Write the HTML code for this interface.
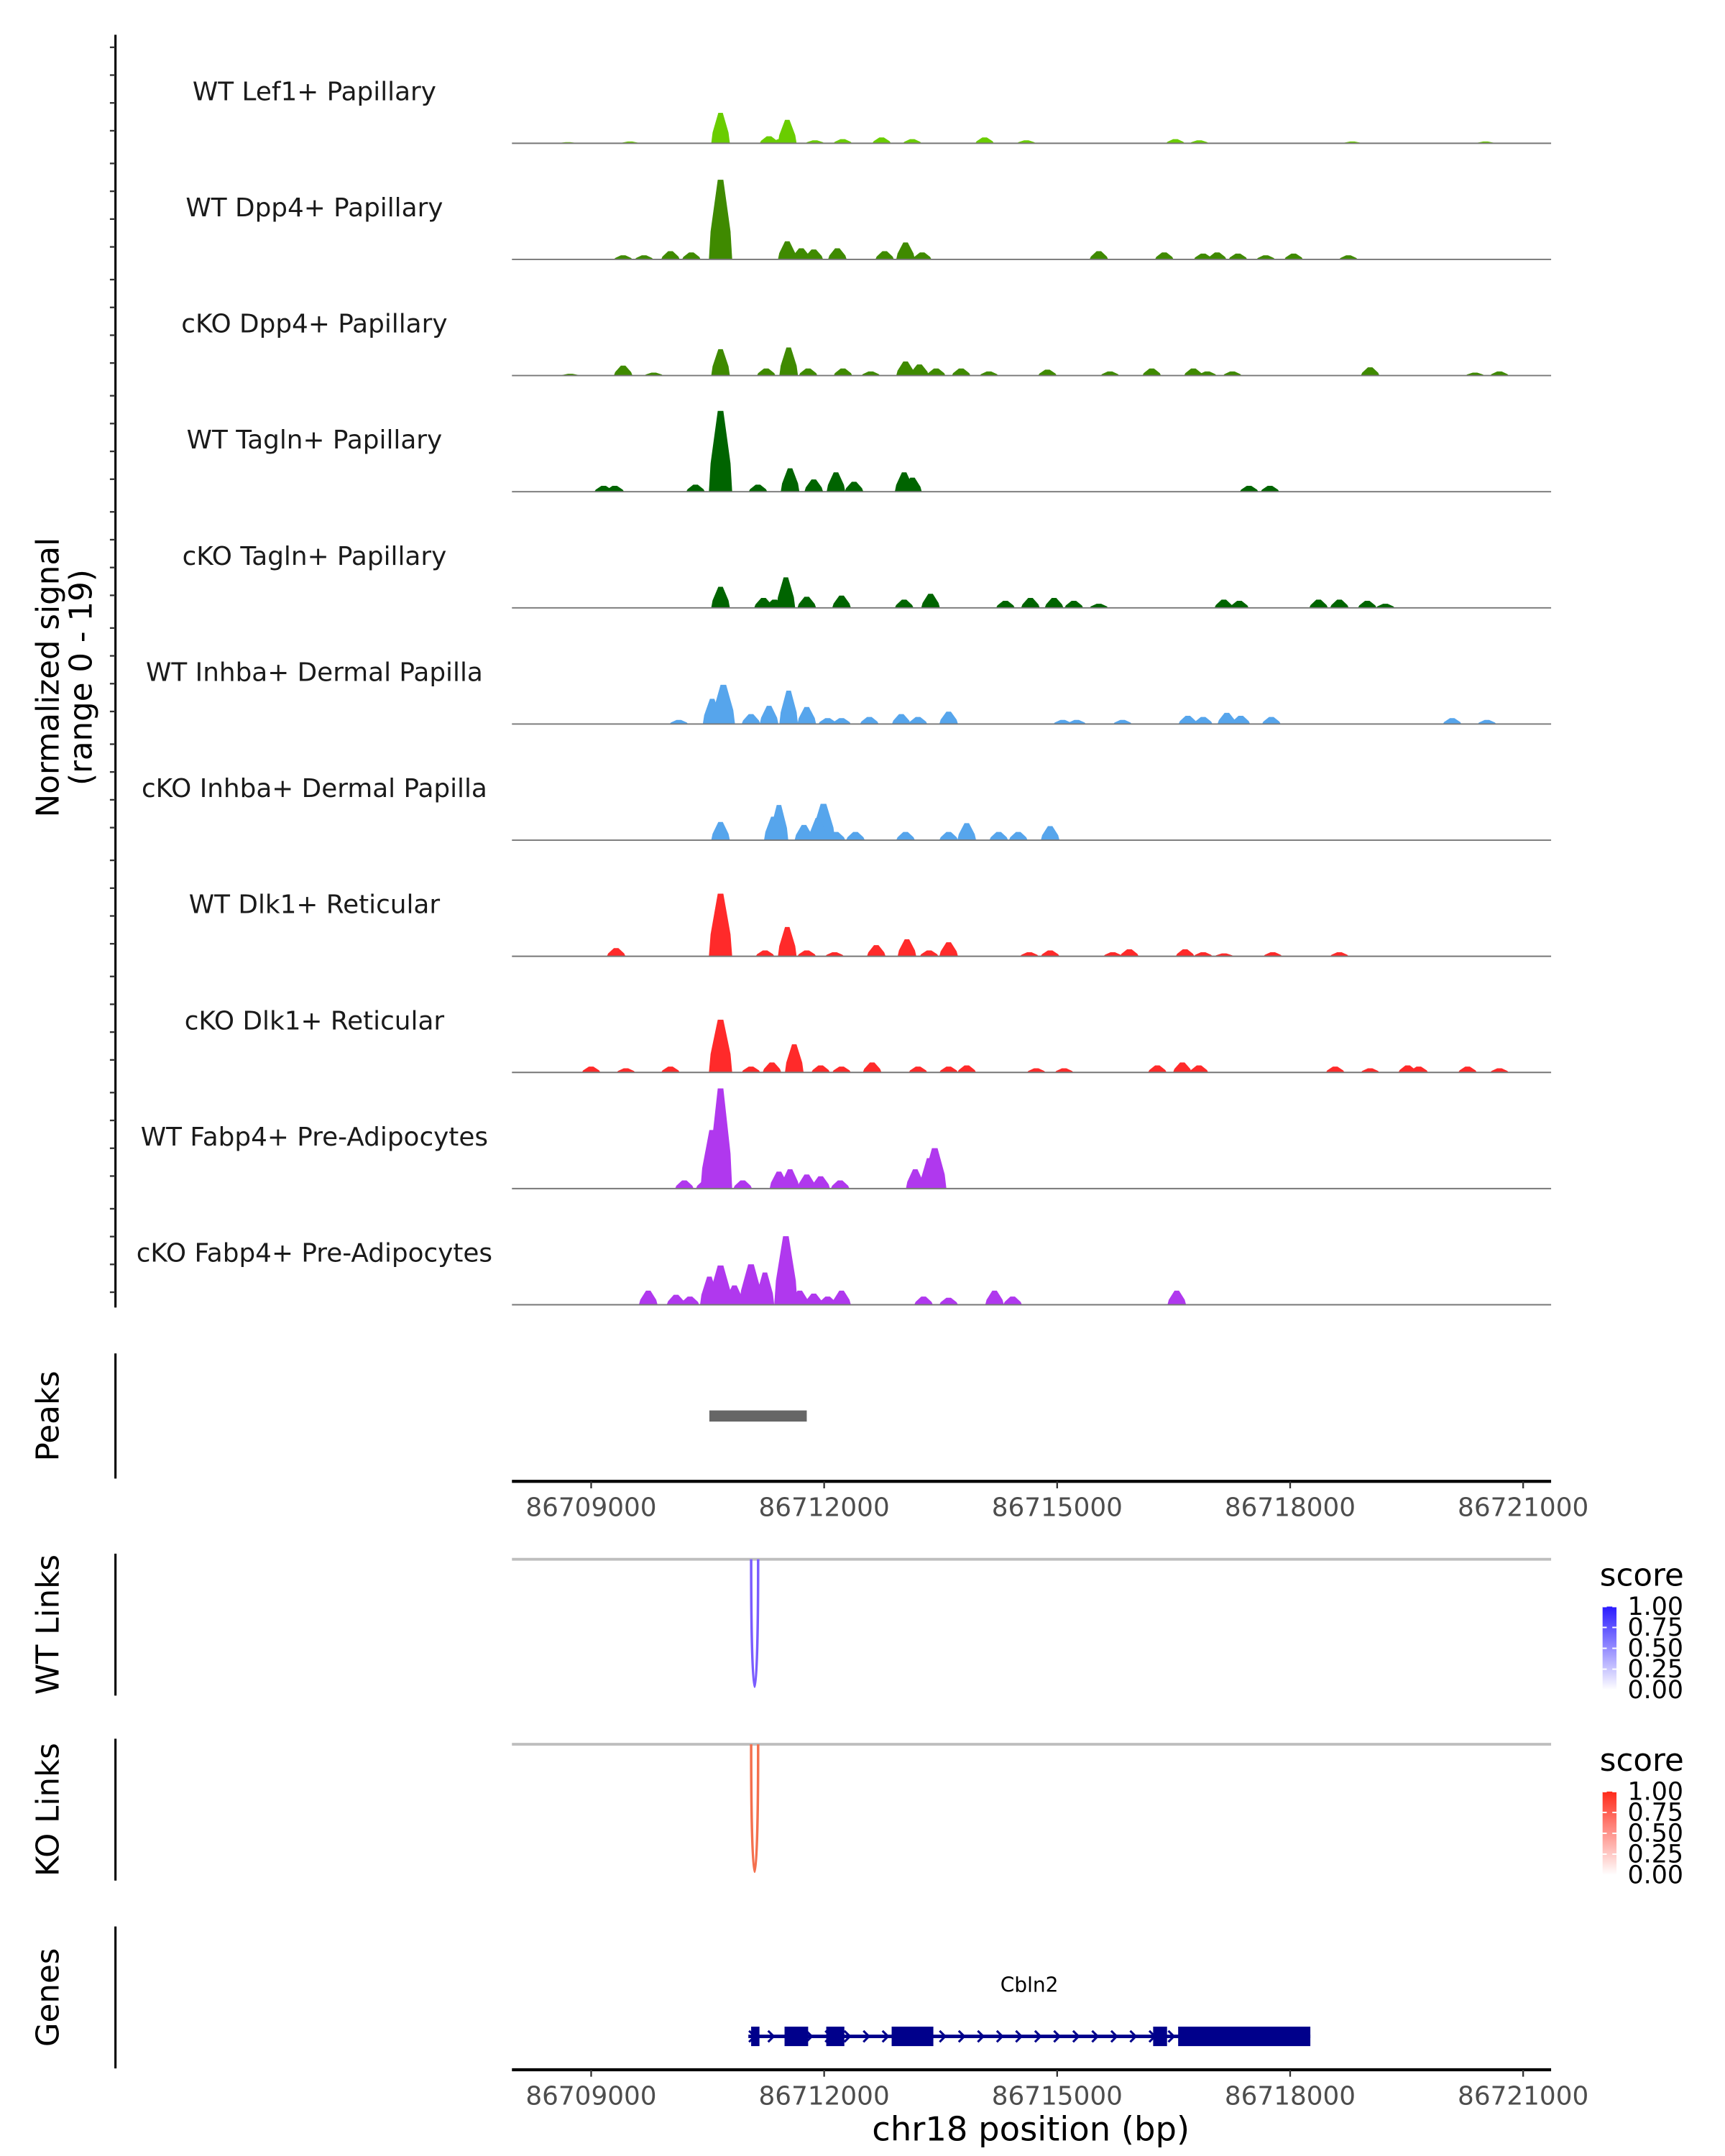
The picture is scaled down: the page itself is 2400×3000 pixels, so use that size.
<!DOCTYPE html>
<html><head><meta charset="utf-8"><style>
html,body{margin:0;padding:0;background:#fff;}
svg{display:block;font-family:"DejaVu Sans","Liberation Sans",sans-serif;}
</style></head><body>
<svg id="chart" width="2400" height="3000" viewBox="0 0 1240 1550" xmlns="http://www.w3.org/2000/svg"></svg>
<script>
// ---- data ----
const trackLabels = ["WT Lef1+ Papillary","WT Dpp4+ Papillary","cKO Dpp4+ Papillary","WT Tagln+ Papillary","cKO Tagln+ Papillary","WT Inhba+ Dermal Papilla","cKO Inhba+ Dermal Papilla","WT Dlk1+ Reticular","cKO Dlk1+ Reticular","WT Fabp4+ Pre-Adipocytes","cKO Fabp4+ Pre-Adipocytes"];
const trackColors = ["#6acd00","#3f8a00","#3f8a00","#006400","#006400","#56a5ec","#56a5ec","#ff2a2a","#ff2a2a","#b038ee","#b038ee"];
// peaks: [position bp, signal (0-19)]
const lef1WT = [[86710666,5.2],[86711525,4.0],[86711290,1.2],[86711433,0.7],[86711881,0.5],[86712239,0.7],[86712740,1.0],[86713134,0.7],[86714066,1.0],[86714603,0.5],[86716522,0.7],[86716830,0.5],[86720516,0.3],[86709500,0.3],[86708700,0.2],[86718800,0.3]];
const dpp4WT = [[86710666,13.6],[86711525,3.1],[86711705,1.9],[86711866,1.7],[86712170,1.9],[86712779,1.4],[86713048,2.9],[86713262,1.2],[86710021,1.4],[86710290,1.2],[86709412,0.7],[86709681,0.7],[86715537,1.4],[86716379,1.2],[86716880,1.0],[86717060,1.2],[86717328,1.0],[86717686,0.7],[86718045,1.0],[86718750,0.7]];
const dpp4KO = [[86710666,4.5],[86711543,4.8],[86709412,1.7],[86711254,1.2],[86711794,1.2],[86712242,1.2],[86712600,0.7],[86713048,2.4],[86713227,1.9],[86713442,1.2],[86713764,1.2],[86714122,0.7],[86714875,1.0],[86715680,0.7],[86716218,1.2],[86716754,1.2],[86716933,0.7],[86717256,0.7],[86719030,1.4],[86720695,0.7],[86720380,0.5],[86708731,0.3],[86709806,0.5]];
const taglnWT = [[86710666,13.8],[86711561,4.0],[86711866,2.1],[86712152,3.3],[86712385,1.7],[86713030,3.3],[86713137,2.4],[86711148,1.2],[86710344,1.2],[86709161,1.0],[86709304,1.0],[86717471,1.0],[86717740,1.0]];
const taglnKO = [[86710666,3.6],[86711507,5.2],[86711219,1.7],[86711362,1.4],[86711776,1.9],[86712224,2.1],[86713030,1.4],[86713370,2.4],[86714334,1.2],[86714656,1.7],[86714960,1.7],[86715215,1.2],[86715537,0.7],[86717146,1.4],[86717346,1.2],[86718366,1.4],[86718634,1.4],[86718993,1.2],[86719226,0.7]];
const inhbaWT = [[86710702,6.7],[86711543,5.7],[86710558,4.3],[86711058,1.7],[86711291,3.1],[86711776,2.9],[86712045,1.0],[86712224,1.0],[86712582,1.2],[86712993,1.7],[86713208,1.2],[86713603,2.1],[86715072,0.7],[86715251,0.7],[86715842,0.7],[86716683,1.4],[86716880,1.2],[86717185,1.9],[86717364,1.4],[86717758,1.2],[86720086,1.0],[86720534,0.7],[86710129,0.7]];
const inhbaKO = [[86710666,3.1],[86711418,6.0],[86711346,4.0],[86711991,6.2],[86711919,3.8],[86711740,2.6],[86712152,1.4],[86712403,1.4],[86713048,1.4],[86713603,1.4],[86713836,2.9],[86714248,1.4],[86714499,1.4],[86714910,2.4]];
const dlk1WT = [[86710666,10.7],[86711525,5.0],[86709322,1.4],[86711239,1.0],[86711776,1.0],[86712134,0.7],[86712671,1.9],[86713066,2.9],[86713603,2.4],[86713352,1.0],[86714642,0.7],[86714910,1.0],[86715716,0.7],[86715930,1.2],[86716647,1.2],[86716880,0.7],[86717150,0.5],[86717776,0.7],[86718634,0.7]];
const dlk1KO = [[86710666,9.0],[86711615,4.8],[86709000,1.0],[86709448,0.7],[86710021,1.0],[86711058,1.0],[86711328,1.7],[86711955,1.2],[86712224,1.0],[86712618,1.7],[86713209,1.0],[86713603,1.0],[86713836,1.2],[86714731,0.7],[86715090,0.7],[86716290,1.2],[86716612,1.7],[86716826,1.2],[86718580,1.0],[86719030,0.7],[86719513,1.2],[86719656,1.0],[86720284,1.0],[86720695,0.7]];
const fabp4WT = [[86710666,17.1],[86710558,10.0],[86710200,1.4],[86710469,1.4],[86710951,1.4],[86711418,2.9],[86711561,3.3],[86711776,2.4],[86711955,2.1],[86712206,1.4],[86713173,3.3],[86713424,6.9],[86713352,5.2]];
const fabp4KO = [[86711507,11.7],[86710666,6.7],[86711058,6.9],[86710522,4.8],[86710845,3.3],[86711237,5.5],[86711686,2.4],[86711866,1.9],[86712045,1.4],[86712224,2.4],[86709735,2.4],[86710093,1.7],[86710272,1.4],[86713280,1.4],[86713603,1.2],[86714194,2.4],[86714427,1.4],[86716540,2.4]];
const trackPeaks = [lef1WT,dpp4WT,dpp4KO,taglnWT,taglnKO,inhbaWT,inhbaKO,dlk1WT,dlk1KO,fabp4WT,fabp4KO];
const xTicks = [86709000,86712000,86715000,86718000,86721000];
const peakRegions = [[86710522,86711776]];
const wtLinks = [[86711060,86711150,1.0]];
const koLinks = [[86711060,86711150,1.0]];
const legendTicks = ["1.00","0.75","0.50","0.25","0.00"];
const exons = [[86711060,86711167],[86711490,86711794],[86712027,86712260],[86712869,86713406],[86716236,86716415],[86716558,86718260]];
const geneSpan = [86711024,86718260];
const geneName = "Cbln2";

// ---- scales ----
const X0=86707980, X1=86721360, PX0=368, PX1=1115;
const sx = v => PX0 + (v - X0) / (X1 - X0) * (PX1 - PX0);
const YMAX = 19, TRACK_H = 80;
const sy = (base, v) => base - v / YMAX * TRACK_H;
const NS="http://www.w3.org/2000/svg";
const svg=document.getElementById('chart');
function mk(tag, attrs, parent){const e=document.createElementNS(NS,tag);for(const k in attrs)e.setAttribute(k,attrs[k]);(parent||svg).appendChild(e);return e;}
function txt(s, attrs, parent){const e=mk('text',attrs,parent);e.textContent=s;return e;}

// y-axis
const yAxis=mk('g',{});


mk('line',{x1:83,y1:25,x2:83,y2:940,stroke:'#000','stroke-width':1.6},yAxis);
const baselines=[];
for(let i=0;i<11;i++) baselines.push(103+i*83.5);
baselines.forEach(b=>{[-9,-29,-49,-69].forEach(o=>mk('line',{x1:79,y1:b+o,x2:83,y2:b+o,stroke:'#333','stroke-width':1.2},yAxis));});
const yt=mk('text',{transform:'translate(42,487) rotate(-90)','text-anchor':'middle','font-size':22.5,fill:'#000'});


mk('tspan',{x:0,dy:0},yt).textContent='Normalized signal';
mk('tspan',{x:0,dy:24},yt).textContent='(range 0 - 19)';

// tracks
trackPeaks.forEach((peaks,i)=>{
  const base=baselines[i];
  const g=mk('g',{});
  
  
  const l=txt(trackLabels[i],{x:226,y:base-31,'text-anchor':'middle','font-size':18.5,fill:'#1a1a1a'},g);
  
  
  peaks.forEach(p=>{
    const hw = p[1]>6 ? 150 : 120;
    const a=sx(p[0]-hw), c=sx(p[0]), b=sx(p[0]+hw), t=sy(base,p[1]);
    const tw=(b-a)*0.12;
    const pe=mk('path',{d:`M${a},${base} L${a+tw*0.6},${sy(base,p[1]*0.35)} L${c-tw},${t} L${c+tw},${t} L${b-tw*0.6},${sy(base,p[1]*0.35)} L${b},${base} Z`,fill:trackColors[i]},g);
    
    
  });
  mk('line',{x1:PX0,y1:base,x2:PX1,y2:base,stroke:'#777','stroke-width':1},g);
});

// peaks track
mk('line',{x1:83,y1:973,x2:83,y2:1063,stroke:'#000','stroke-width':1.6});
const pl=txt('Peaks',{transform:'translate(42,1018) rotate(-90)','text-anchor':'middle','font-size':22.5});


peakRegions.forEach(r=>{const e=mk('rect',{x:sx(r[0]),y:1014,width:sx(r[1])-sx(r[0]),height:8,fill:'#666'});

});

function xAxis(y,name){
  const g=mk('g',{});
  
  
  mk('line',{x1:PX0,y1:y,x2:PX1,y2:y,stroke:'#000','stroke-width':2.2},g);
  xTicks.forEach(t=>{mk('line',{x1:sx(t),y1:y,x2:sx(t),y2:y+5,stroke:'#333','stroke-width':1.2},g);
    txt(String(t),{x:sx(t),y:y+25,'text-anchor':'middle','font-size':18.5,fill:'#4d4d4d'},g);});
}
xAxis(1065,'x-axis-top');

function linkPanel(top,links,color,label,grad,c0){
  mk('line',{x1:83,y1:top-4,x2:83,y2:top+98,stroke:'#000','stroke-width':1.6});
  const l=txt(label,{transform:`translate(42,${top+47}) rotate(-90)`,'text-anchor':'middle','font-size':22.5});
  
  
  mk('line',{x1:PX0,y1:top,x2:PX1,y2:top,stroke:'#bebebe','stroke-width':2});
  links.forEach(k=>{const a=sx(k[0]),b=sx(k[1]),d=k[2]*94;
    const p=mk('path',{d:`M${a},${top} C${a},${top+d*1.3} ${b},${top+d*1.3} ${b},${top}`,fill:'none',stroke:color,'stroke-width':1.8});
    
    });
  const lg=mk('g',{});
  
  
  txt('score',{x:1150,y:top+19,'font-size':22.5},lg);
  const defs=mk('defs',{},lg);
  const gr=mk('linearGradient',{id:grad,x1:0,y1:0,x2:0,y2:1},defs);
  mk('stop',{offset:'0','stop-color':c0},gr);mk('stop',{offset:'1','stop-color':'#fff'},gr);
  mk('rect',{x:1152,y:top+34,width:10,height:60,fill:`url(#${grad})`},lg);
  legendTicks.forEach((s,i)=>{const yy=top+34+i*15;
    mk('line',{x1:1152,y1:yy,x2:1155,y2:yy,stroke:'#fff'},lg);mk('line',{x1:1159,y1:yy,x2:1162,y2:yy,stroke:'#fff'},lg);
    txt(s,{x:1170,y:yy+6,'font-size':18},lg);});
}
linkPanel(1121,wtLinks,'#7a5cff','WT Links','gb','#2a1aff');
linkPanel(1254,koLinks,'#f4704e','KO Links','gr','#ff2a1a');

// genes
mk('line',{x1:83,y1:1385,x2:83,y2:1487,stroke:'#000','stroke-width':1.6});
const gl=txt('Genes',{transform:'translate(42,1436) rotate(-90)','text-anchor':'middle','font-size':22.5});


const gg=mk('g',{});


txt(geneName,{x:(sx(geneSpan[0])+sx(geneSpan[1]))/2,y:1432,'text-anchor':'middle','font-size':14.5},gg);
mk('line',{x1:sx(geneSpan[0]),y1:1464,x2:sx(geneSpan[1]),y2:1464,stroke:'#00008b','stroke-width':2.5},gg);
for(let x=sx(geneSpan[0])+3;x<sx(geneSpan[1]);x+=13.7){
  mk('path',{d:`M${x-2.5},${1460} L${x+1.5},${1464} L${x-2.5},${1468}`,fill:'none',stroke:'#00008b','stroke-width':1.6},gg);
}
exons.forEach(e=>{mk('rect',{x:sx(e[0]),y:1457,width:sx(e[1])-sx(e[0]),height:14,fill:'#00008b'},gg);});
xAxis(1488,'x-axis-bottom');
const xt=txt('chr18 position (bp)',{x:741,y:1539,'text-anchor':'middle','font-size':24});


</script>
</body></html>
